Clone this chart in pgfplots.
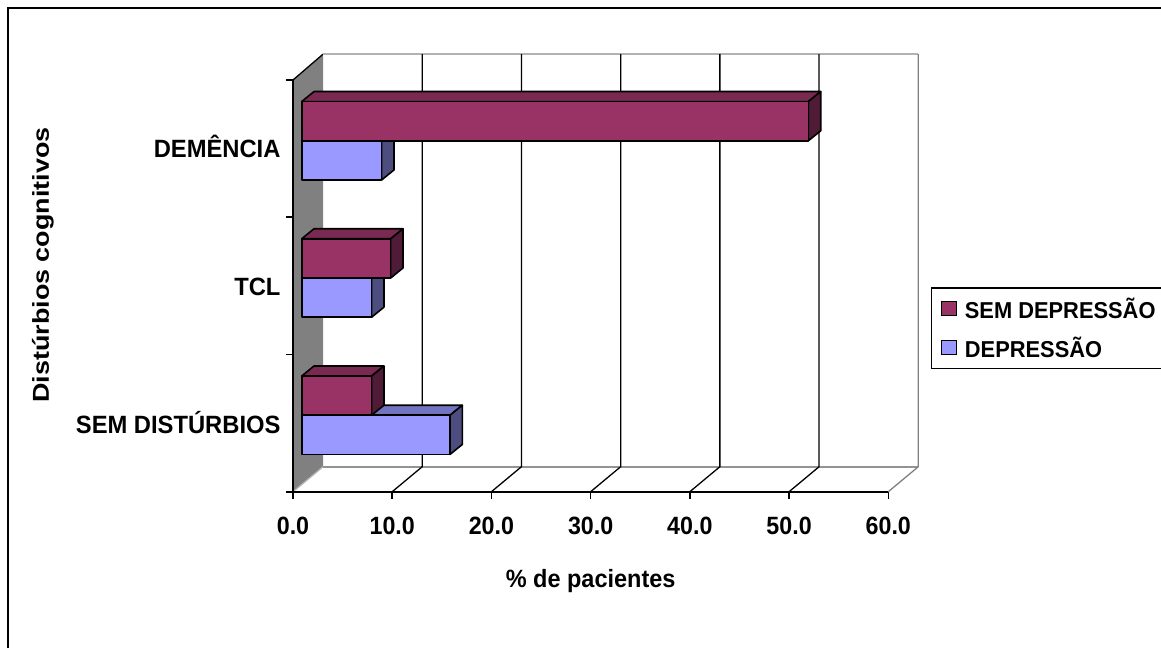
\documentclass[border=0pt]{standalone}
\usepackage{graphicx}
\usepackage{fontspec}
\setmainfont{Liberation Sans}
\usepackage{pgfplots}
\pgfplotsset{compat=1.18}

\definecolor{semfront}{RGB}{153,51,102}
\definecolor{semtop}{RGB}{122,41,82}
\definecolor{semside}{RGB}{80,27,54}
\definecolor{depfront}{RGB}{153,153,255}
\definecolor{deptop}{RGB}{115,115,191}
\definecolor{depside}{RGB}{77,77,128}

\newcommand{\lblfont}{\fontsize{25}{29}\bfseries\selectfont}
\newcommand{\legfont}{\fontsize{23}{27}\bfseries\selectfont}
\newcommand{\numt}[1]{\scalebox{.93}[1]{#1}}
\newcommand{\catt}[1]{\scalebox{.95}[1]{\strut #1}}
\newcommand{\legt}[1]{\hspace*{6pt}\scalebox{.95}[1]{#1}}

% Depth of the chart floor and of the bars, in axis units
\def\wallx{3.024}
\def\wally{0.182}
\def\wallt{3.188}
\def\barx{0.877}
\def\bardx{1.24}
\def\bardy{0.0729}
\def\barh{0.2857}

% One line of the back grid with its run across the floor
\newcommand{\backgrid}[2]{%
  \pgfmathsetmacro{\gx}{#1+\wallx}%
  \addplot[forget plot,draw=#2,line width=1.3pt] coordinates {(#1,0) (\gx,\wally) (\gx,\wallt)};%
}

% A bar as three faces: value, lower edge, then the three face colours
\newcommand{\barbox}[5]{%
  \pgfmathsetmacro{\xa}{\barx}%
  \pgfmathsetmacro{\xb}{\barx+#1}%
  \pgfmathsetmacro{\xc}{\barx+#1+\bardx}%
  \pgfmathsetmacro{\xd}{\barx+\bardx}%
  \pgfmathsetmacro{\ya}{#2}%
  \pgfmathsetmacro{\yb}{#2+\barh}%
  \pgfmathsetmacro{\yc}{#2+\barh+\bardy}%
  \pgfmathsetmacro{\yd}{#2+\bardy}%
  \addplot[forget plot,fill=#4,draw=black,line width=1.6pt,line join=round]
    coordinates {(\xa,\yb) (\xb,\yb) (\xc,\yc) (\xd,\yc)} -- cycle;%
  \addplot[forget plot,fill=#5,draw=black,line width=1.6pt,line join=round]
    coordinates {(\xb,\ya) (\xc,\yd) (\xc,\yc) (\xb,\yb)} -- cycle;%
  \addplot[forget plot,fill=#3,draw=black,line width=1.6pt,line join=round]
    coordinates {(\xa,\ya) (\xb,\ya) (\xb,\yb) (\xa,\yb)} -- cycle;%
}

\begin{document}
\begin{tikzpicture}[x=1pt,y=1pt]
\useasboundingbox (0,0) rectangle (1161,648);
\draw[black,line width=2pt] (8,0) -- (8,640) -- (1161,640);
\begin{axis}[
  at={(293pt,156.3pt)},
  anchor=south west,
  scale only axis,
  width=595.3pt,
  height=411.7pt,
  xmin=0,xmax=60,ymin=0,ymax=3,
  clip=false,
  axis on top,
  axis x line*=bottom,
  axis y line*=left,
  axis line style={-,black,line width=1.8pt},
  tick style={black,line width=1.6pt},
  tick align=outside,
  major tick length=7pt,
  xtick={0,10,20,30,40,50,60},
  xticklabels={\numt{0.0},\numt{10.0},\numt{20.0},\numt{30.0},\numt{40.0},\numt{50.0},\numt{60.0}},
  ytick={0,1,2,3},
  yticklabels={},
  extra y ticks={0.4934,1.494,2.51},
  extra y tick labels={\catt{SEM DISTÚRBIOS},\catt{TCL},\catt{DEMÊNCIA}},
  extra y tick style={major tick length=0pt,tick style={draw=none},
    yticklabel style={xshift=-9pt,yshift=-3.2pt}},
  tick label style={font=\lblfont,text=black},
  xticklabel style={yshift=-15pt},
  xlabel={\scalebox{.94}[1]{\% de pacientes}},
  ylabel={\scalebox{1.17}[1]{\fontsize{23}{27}\selectfont Distúrbios cognitivos}},
  every axis x label/.style={at={(axis cs:30,-0.651)},anchor=center,font=\lblfont},
  every axis y label/.style={at={(axis cs:-25.2,1.652)},anchor=center,rotate=90,font=\lblfont},
  legend style={at={(axis cs:64.28,1.49)},anchor=north west,draw=black,line width=1.3pt,
    font=\legfont,row sep=13pt,inner xsep=10pt,inner ysep=8pt,
    nodes={line width=1pt}},
  legend cell align=left,
  legend image code/.code={%
    \draw[#1,draw=black,line width=1pt] (0pt,-7pt) rectangle (14.5pt,7pt);},
]
% Side wall, floor edges and back wall
\addplot[forget plot,fill=gray,draw=none] coordinates {(0,0) (\wallx,\wally) (\wallx,\wallt) (0,3)} -- cycle;
\addplot[forget plot,draw=black,line width=1.3pt] coordinates {(0,3) (\wallx,\wallt)};
\addplot[forget plot,draw=gray!60,line width=2pt] coordinates {(\wallx,\wallt) (63.024,\wallt)};
\addplot[forget plot,draw=gray!85,line width=2pt] coordinates {(\wallx,\wally) (63.024,\wally)};
\addplot[forget plot,draw=gray!60,line width=1.3pt] coordinates {(0,0) (\wallx,\wally)};
\backgrid{10}{black}
\backgrid{20}{black}
\backgrid{30}{black}
\backgrid{40}{black}
\backgrid{50}{black}
\backgrid{60}{gray}
% Lower group
\barbox{14.95}{0.2715}{depfront}{deptop}{depside}
\barbox{7.05}{0.5572}{semfront}{semtop}{semside}
% Middle group
\barbox{7.05}{1.2715}{depfront}{deptop}{depside}
\barbox{8.97}{1.5572}{semfront}{semtop}{semside}
% Upper group
\barbox{8.06}{2.2715}{depfront}{deptop}{depside}
\barbox{51.07}{2.5572}{semfront}{semtop}{semside}
\addlegendimage{fill=semfront}
\addlegendentry{\legt{SEM DEPRESSÃO}\hspace*{20pt}}
\addlegendimage{fill=depfront}
\addlegendentry{\legt{DEPRESSÃO}}
\end{axis}
\end{tikzpicture}
\end{document}
